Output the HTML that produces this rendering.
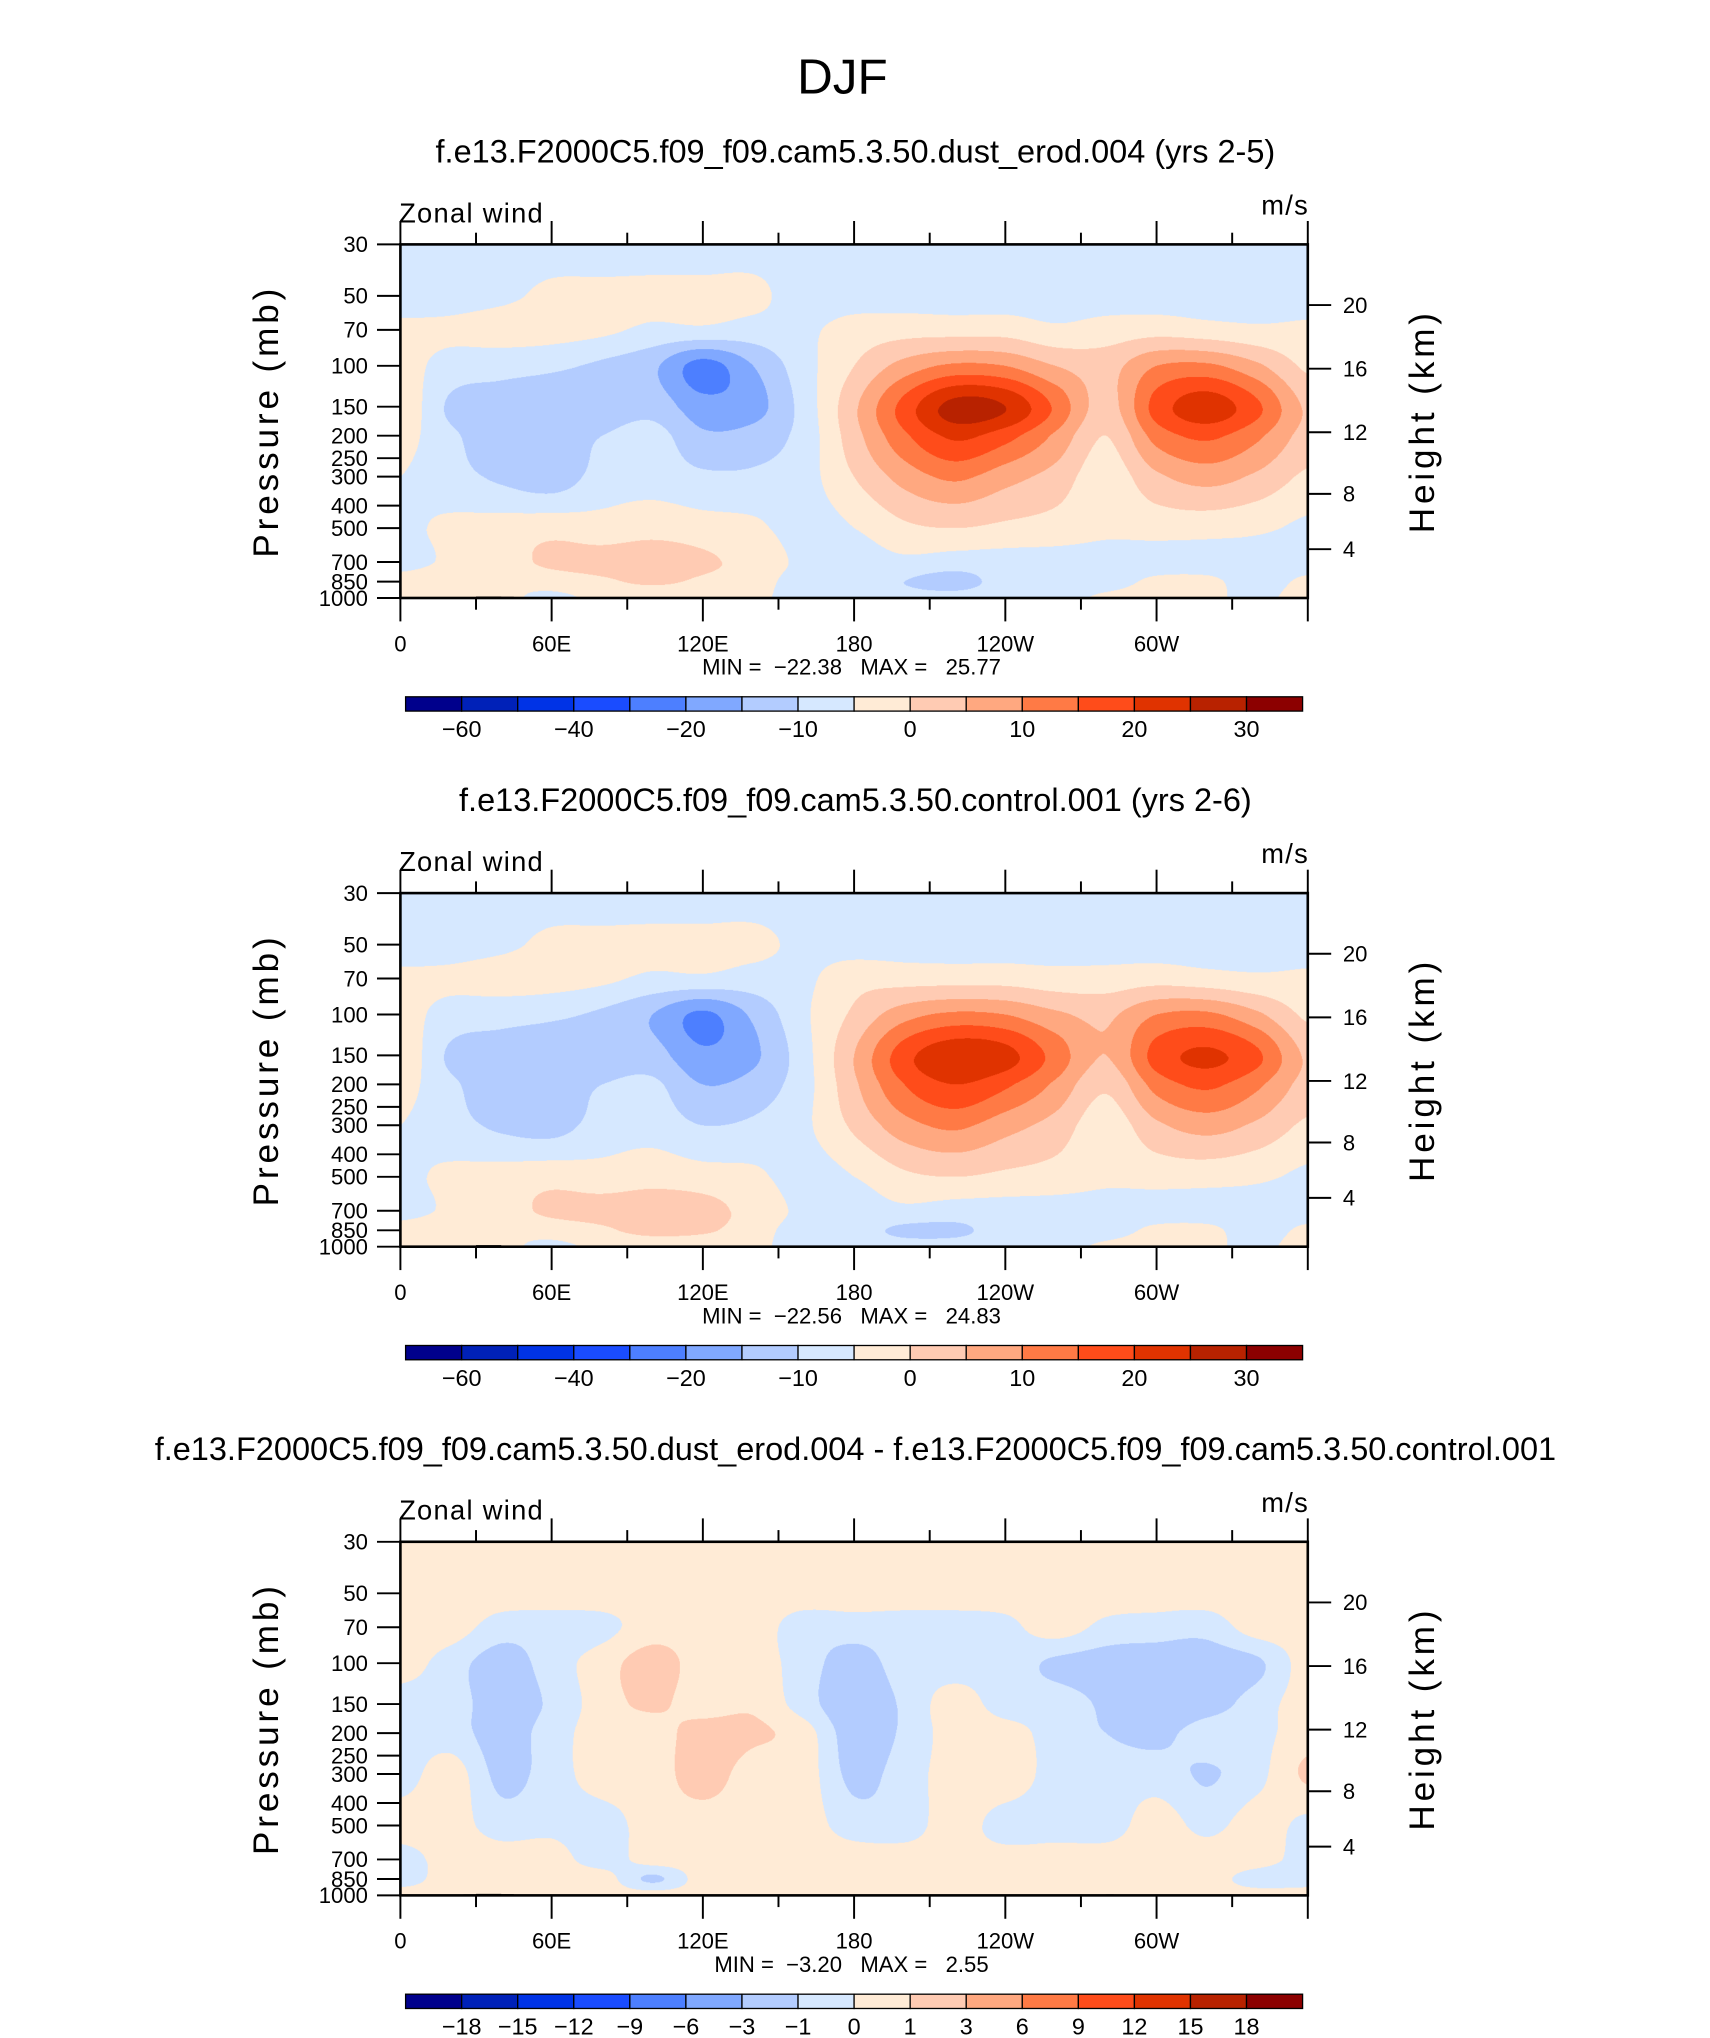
<!DOCTYPE html>
<html><head><meta charset="utf-8">
<style>
html,body{margin:0;padding:0;background:#fff;}
#page{position:relative;width:1710px;height:2038px;overflow:hidden;background:#fff;}
#inner{position:absolute;left:0;top:0;width:1315.4px;height:1567.7px;transform:scale(1.3);transform-origin:0 0;}
canvas{position:absolute;}
svg{position:absolute;left:0;top:0;}
text{font-family:"Liberation Sans",sans-serif;fill:#000;}
</style></head>
<body>
<div id="page">
<div id="inner">
<canvas id="c0"></canvas>
<canvas id="c1"></canvas>
<canvas id="c2"></canvas>
<svg id="ov" width="1315.4" height="1567.7" viewBox="0 0 1315.4 1567.7">
<text x="648" y="72" font-size="38" text-anchor="middle" font-weight="300">DJF</text>
</svg>
</div></div>
<script>
// ---- data ----
const lons = [0,20,40,60,80,100,120,140,160,180,200,220,240,260,280,300,320,340,360];
const plevs = [30,50,70,100,150,200,300,500,700,850,1000];
const dustField = [
[-7,-7,-7,-7,-7,-7,-7,-7,-7,-7,-7,-7,-7,-7,-7,-7,-7,-7,-7],
[-7,-7,-6,-4,-4,-4,-4,-4,-7,-7,-7,-7,-7,-7,-7,-7,-7,-7,-7],
[-4,-4,-3,-3,-4,-6,-6,-7,-6,-3,-2,-2,-2,-4,-3,-2,-3,-4,-4],
[-3,-7,-8,-9,-11,-14,-22,-15,-7,0,7,11,10,5,3,10,11,6,-1],
[-1,-11,-13,-14,-13,-12,-18,-17,-8,4,17,27,25,14,3,17,23,16,4],
[-3,-9,-13,-12,-10,-8,-14,-13,-8,3,14,21,17,9,0,12,16,11,3],
[-5,-8,-11,-13,-8,-7,-9,-9,-7,0,7,11,7,3,-3,4,7,4,-1],
[-6,-4,-3,-2,-3,-2,-3,-4,-7,-5,-1,0,-1,-2,-4,-3,-3,-4,-6],
[-7,-4,-2,1,2,3,1,-2,-6,-7,-6,-7,-7,-7,-7,-7,-7,-7,-7],
[-3,-2,-4,-3,-1,1,-1,-3,-7,-7,-10,-12,-8,-7,-7,-4,-4,-7,-4],
[-4,-3,-4,-6,-4,-4,-4,-4,-7,-7,-8,-8,-7,-7,-4,-3,-4,-6,-3]];
const ctrlField = [
[-7,-7,-7,-7,-7,-7,-7,-7,-7,-7,-7,-7,-7,-7,-7,-7,-7,-7,-7],
[-7,-7,-6,-4,-4,-4,-4,-4,-6,-7,-7,-7,-7,-7,-7,-7,-7,-7,-7],
[-4,-4,-3,-3,-4,-6,-6,-7,-6,-2,-2,-2,-2,-3,-3,-2,-3,-4,-4],
[-3,-7,-8,-9,-11,-15,-21,-14,-6,1,8,11,10,6,4,10,11,6,-1],
[-1,-11,-13,-14,-13,-13,-19,-16,-7,5,18,24,22,13,5,17,21,16,4],
[-3,-9,-13,-12,-10,-9,-15,-13,-7,4,15,20,16,9,1,12,16,11,3],
[-5,-8,-11,-12,-8,-7,-10,-9,-6,1,8,11,7,3,-3,4,7,4,-1],
[-6,-4,-3,-2,-3,-2,-3,-4,-7,-5,-1,0,-1,-2,-4,-3,-3,-4,-6],
[-7,-4,-2,1,2,3,2,-2,-6,-7,-6,-7,-7,-7,-7,-7,-7,-7,-7],
[-3,-2,-4,-3,-1,2,1,-3,-7,-8,-11,-11,-8,-7,-7,-4,-4,-7,-4],
[-4,-3,-4,-6,-4,-4,-4,-4,-7,-7,-8,-8,-7,-7,-4,-3,-4,-6,-3]];
const diffField = [
[0.5,0.5,0.5,0.5,0.5,0.5,0.5,0.5,0.5,0.5,0.5,0.5,0.5,0.5,0.5,0.5,0.5,0.5,0.5],
[0.5,0.5,0.5,0.5,0.5,0.5,0.5,0.5,0.5,0.5,0.5,0.5,0.5,0.5,0.5,0.5,0.5,0.5,0.5],
[0.5,0.5,-0.5,-0.5,-0.3,0.5,0.5,0.5,-0.5,-0.5,-0.5,-0.5,-0.3,0.5,-0.3,-0.5,-0.6,0.5,0.5],
[0.5,-0.5,-1.5,-0.5,0.5,1.5,0.5,0.5,-0.5,-1.5,-0.5,-0.5,-0.5,-1.2,-1.5,-1.6,-1.6,-1.2,0.5],
[-0.5,-0.5,-1.6,-0.8,0.5,1.2,0.5,0.8,-0.5,-1.8,-0.8,0.5,-0.5,-0.5,-1.2,-1.8,-1.5,-0.5,0.5],
[-0.5,-0.5,-1.5,-0.5,0.5,0.5,1.5,1.2,0.5,-1.6,-0.8,0.5,0.5,-0.5,-1,-1.3,-0.5,-0.3,0.5],
[-0.5,0.5,-1.3,-0.5,0.5,0.5,1.5,0.5,0.5,-1.3,-0.5,0.5,0.8,-0.5,-0.5,-0.5,-1.1,-0.3,1.2],
[0.5,0.5,-0.5,-0.3,-0.5,0.5,0.5,0.5,0.5,-0.5,-0.5,0.5,-0.5,-0.5,-0.5,0.5,-0.3,0.5,-0.3],
[-0.5,0.5,0.5,0.5,-0.5,0.5,0.5,0.5,0.5,0.5,0.5,0.5,0.5,0.5,0.5,0.5,0.5,0.5,-0.5],
[-0.5,0.5,0.5,0.5,0.5,-1.2,0.5,0.5,0.5,0.5,0.5,0.5,0.5,0.5,0.5,0.5,0.5,-0.5,-0.5],
[0.5,0.5,0.5,0.5,0.5,0.5,0.5,0.5,0.5,0.5,0.5,0.5,0.5,0.5,0.5,0.5,0.5,0.5,0.5]];
const windLevels = [-60,-50,-40,-30,-20,-15,-10,-5,0,5,10,15,20,25,30];
const diffLevels = [-18,-15,-12,-9,-6,-3,-1,0,1,3,6,9,12,15,18];
const windTickLabels = ["\u221260","","\u221240","","\u221220","","\u221210","","0","","10","","20","","30"];
const diffTickLabels = ["\u221218","\u221215","\u221212","\u22129","\u22126","\u22123","\u22121","0","1","3","6","9","12","15","18"];
const panelTitles = ["f.e13.F2000C5.f09_f09.cam5.3.50.dust_erod.004 (yrs 2-5)","f.e13.F2000C5.f09_f09.cam5.3.50.control.001 (yrs 2-6)","f.e13.F2000C5.f09_f09.cam5.3.50.dust_erod.004 - f.e13.F2000C5.f09_f09.cam5.3.50.control.001"];
const minVals = ["\u221222.38","\u221222.56","\u22123.20"];
const maxVals = ["25.77","24.83","2.55"];
const pressureTicks = [30,50,70,100,150,200,250,300,400,500,700,850,1000];
const heightTicks = [4,8,12,16,20];
const lonTicks = [0,60,120,180,240,300];
const lonTickLabels = ["0","60E","120E","180","120W","60W"];
const topoLon = [0,10,15,25,30,40,45,100,102,115,118,122,125,135,175,280,283,287,290,310,360];
const topoP =   [1000,995,993,990,985,988,1000,996,1000,996,1000,996,1000,997,1000,990,995,993,997,1000,1000];
// ---- layout ----
const colors = ["#00008c","#0021b8","#0033e6","#1a4cff","#4d7fff","#80a8ff","#b3ccff","#d6e8ff","#ffebd6","#ffcbb3","#ffa880","#ff7a45","#ff4c1a","#e03300","#b82200","#8c0000"];
const L=308,R=1006,H=272,TOPS=[188,687,1186];
const fields=[dustField,ctrlField,diffField];
const levelsets=[windLevels,windLevels,diffLevels];
const ticklabelsets=[windTickLabels,windTickLabels,diffTickLabels];
const lg=Math.log10;
function xOf(lon){return L+(lon/360)*(R-L);}
function yOfP(p,T){return T+(lg(p)-lg(30))/(lg(1000)-lg(30))*H;}
function pOfZ(z){z*=1000;return z<11000?1013.25*Math.pow(1-2.2558e-5*z,5.256):226.32*Math.exp(-(z-11000)/6341.6);}
function cr(p0,p1,p2,p3,t){return 0.5*((2*p1)+(-p0+p2)*t+(2*p0-5*p1+4*p2-p3)*t*t+(-p0+3*p1-3*p2+p3)*t*t*t);}
function sample(F,fi,fj){
  const nr=F.length,nc=F[0].length;
  const i=Math.min(Math.floor(fi),nr-2),j=Math.min(Math.floor(fj),nc-2);
  const ti=fi-i,tj=fj-j;const rows=[];
  for(let a=-1;a<=2;a++){const ii=Math.max(0,Math.min(nr-1,i+a));const r=F[ii];
    const g=k=>r[Math.max(0,Math.min(nc-1,k))];
    rows.push(cr(g(j-1),g(j),g(j+1),g(j+2),tj));}
  return cr(rows[0],rows[1],rows[2],rows[3],ti);
}
const lp=plevs.map(lg);
function rowIndex(logp){for(let k=0;k<lp.length-1;k++){if(logp<=lp[k+1])return k+(logp-lp[k])/(lp[k+1]-lp[k]);}return lp.length-1;}
function hex(c){return [parseInt(c.substr(1,2),16),parseInt(c.substr(3,2),16),parseInt(c.substr(5,2),16)];}
const rgb=colors.map(hex);
for(let k=0;k<3;k++){
  const cv=document.getElementById('c'+k);const S=2;
  cv.width=(R-L)*S;cv.height=H*S;cv.style.left=L+'px';cv.style.top=TOPS[k]+'px';
  cv.style.width=(R-L)+'px';cv.style.height=H+'px';
  const ctx=cv.getContext('2d');const img=ctx.createImageData(cv.width,cv.height);
  const F=fields[k],lev=levelsets[k];
  const rIdx=[];for(let y=0;y<cv.height;y++){const logp=lg(30)+(y+0.5)/cv.height*(lg(1000)-lg(30));rIdx.push(rowIndex(logp));}
  for(let y=0;y<cv.height;y++){for(let x=0;x<cv.width;x++){
    const lon=(x+0.5)/cv.width*360;const fj=lon/20;
    const v=sample(F,rIdx[y],fj);let b=0;while(b<lev.length&&v>=lev[b])b++;
    const c=rgb[b];const o=(y*cv.width+x)*4;img.data[o]=c[0];img.data[o+1]=c[1];img.data[o+2]=c[2];img.data[o+3]=255;}}
  ctx.putImageData(img,0,0);
}
const svg=document.getElementById('ov');const NS='http://www.w3.org/2000/svg';
function mk(tag,attrs,parent){const e=document.createElementNS(NS,tag);for(const a in attrs)e.setAttribute(a,attrs[a]);(parent||svg).appendChild(e);return e;}
function txt(s,x,y,size,anchor,parent){const t=mk('text',{x:x,y:y,'font-size':size,'text-anchor':anchor||'start'},parent);t.textContent=s;return t;}
for(let k=0;k<3;k++){
  const T=TOPS[k],o=T-188,B=T+H;
  const g=mk('g',{});
  
  
  let t=txt(panelTitles[k],658,125+o,25,'middle',g);
  
  
  t=txt('Zonal wind',307,171+o,21,'start',g);t.setAttribute('letter-spacing','1');
  
  
  t=txt('m/s',1007,165+o,21,'end',g);t.setAttribute('letter-spacing','1');
  
  
  let pts=[];for(let i=0;i<topoLon.length;i++){const x=xOf(topoLon[i]);const y=yOfP(topoP[i],T);if(i>0)pts.push(x+','+yOfP(topoP[i-1],T));pts.push(x+','+y);}
  pts.push(xOf(360)+','+B);pts.push(xOf(0)+','+B);
  const tp=mk('polygon',{points:pts.join(' '),fill:'#000'},g);
  
  
  const box=mk('rect',{x:L,y:T,width:R-L,height:H,fill:'none',stroke:'#000','stroke-width':2},g);
  
  
  for(let lon=0;lon<=360;lon+=30){const x=xOf(lon);const major=lon%60===0;const len=major?18:9;
    mk('line',{x1:x,y1:B,x2:x,y2:B+len,stroke:'#000','stroke-width':1.5},g);
    mk('line',{x1:x,y1:T,x2:x,y2:T-len,stroke:'#000','stroke-width':1.5},g);}
  lonTicks.forEach((lon,i)=>{const tl=txt(lonTickLabels[i],xOf(lon),501+o,17,'middle',g);
    
    });
  pressureTicks.forEach(p=>{const y=yOfP(p,T);mk('line',{x1:L-18,y1:y,x2:L,y2:y,stroke:'#000','stroke-width':1.5},g);
    const tl=txt(String(p),283,y+6,17,'end',g);
    
    });
  heightTicks.forEach(z=>{const y=yOfP(pOfZ(z),T);mk('line',{x1:R,y1:y,x2:R+18,y2:y,stroke:'#000','stroke-width':1.5},g);
    const tl=txt(String(z),1033,y+6,17,'start',g);
    
    });
  t=txt('Pressure (mb)',0,0,27,'middle',g);t.setAttribute('transform','translate(214,'+(324+o)+') rotate(-90)');t.setAttribute('letter-spacing','3');
  
  
  t=txt('Height (km)',0,0,27,'middle',g);t.setAttribute('transform','translate(1103,'+(324+o)+') rotate(-90)');t.setAttribute('letter-spacing','3');
  
  
  t=txt('MIN =  '+minVals[k]+'   MAX =   '+maxVals[k],655,519+o,17,'middle',g);t.setAttribute('xml:space','preserve');t.style.whiteSpace='pre';
  
  
  const cb=mk('g',{},g);
  
  
  const cx0=312,cx1=1002,cw=(cx1-cx0)/16;
  colors.forEach((c,i)=>{const r=mk('rect',{x:cx0+i*cw,y:536+o,width:cw,height:11,fill:c,stroke:'#000','stroke-width':1},cb);
    
    });
  ticklabelsets[k].forEach((s,i)=>{if(!s)return;const tl=txt(s,cx0+(i+1)*cw,567+o,18,'middle',cb);
    
    });
}
</script>
</body></html>
